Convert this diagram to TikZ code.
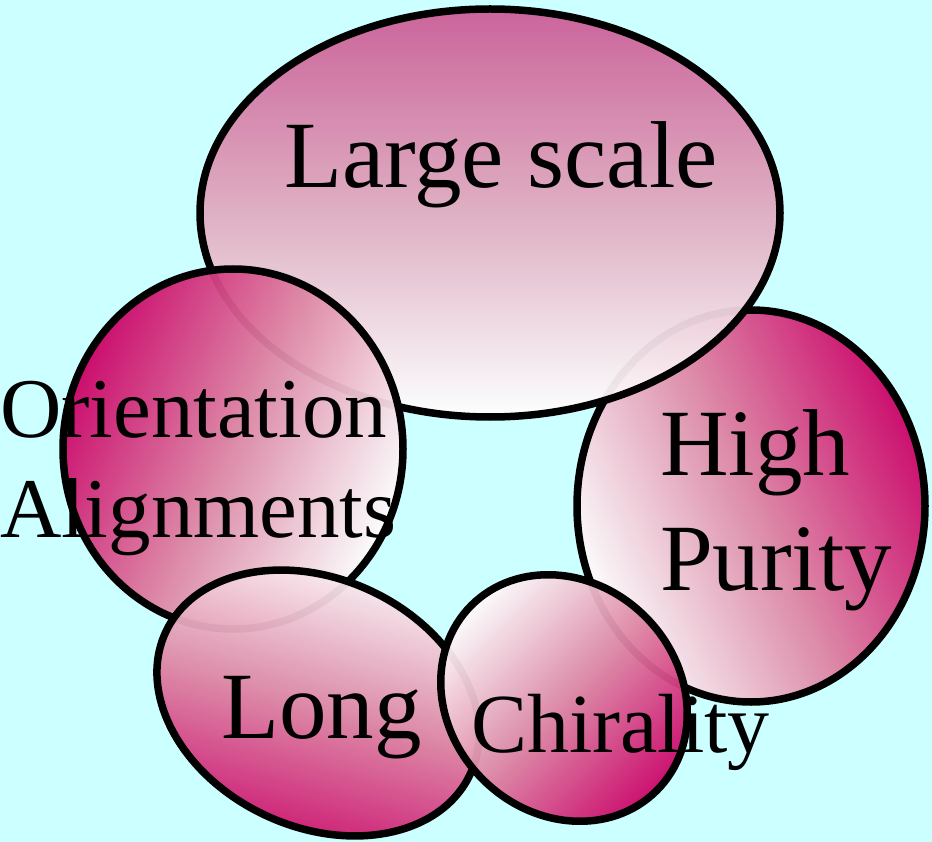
\documentclass[tikz,border=0pt]{standalone}
\usepackage{fontspec}
\setmainfont{Liberation Serif}
\definecolor{bg}{RGB}{204,255,255}
\definecolor{mag}{RGB}{204,0,102}
\definecolor{magmid}{RGB}{222,135,165}
\definecolor{lmag}{RGB}{204,92,150}
\definecolor{lmagmid}{RGB}{224,172,192}
\begin{document}
\begin{tikzpicture}[x=1pt,y=-1pt,
  bubble/.style={line width=7.5pt, draw=black, fill opacity=0.95, bottom color=white},
  deep/.style={top color=mag, middle color=magmid},
  lbl/.style={inner sep=0pt, outer sep=0pt, text=black, font=\fontsize{95}{115}\selectfont},
  lblsmall/.style={lbl, font=\fontsize{85}{100}\selectfont}]
\useasboundingbox (0,0) rectangle (932,842);
\fill[bg] (0,0) rectangle (932,842);
% shapes, bottom to top
\path[bubble, deep, shading angle=-65] (751,506) ellipse [x radius=174, y radius=196];
\path[bubble, top color=lmag, middle color=lmagmid, shading angle=0] (490,213) ellipse [x radius=290, y radius=204];
\path[bubble, deep, shading angle=65] (233,449) ellipse [x radius=170, y radius=180];
\path[bubble, deep, shading angle=165, rotate around={-25:(318,703)}] (318,703) ellipse [x radius=168, y radius=124];
\path[bubble, deep, shading angle=-135, rotate around={-45:(564,698)}] (564,698) ellipse [x radius=131, y radius=115];
% labels
\node[lbl, anchor=base] (tlarge) at (501,188) {Large scale};
\node[lblsmall, anchor=base west] (torient) at (0,437) {\begin{tabular}[t]{@{}l@{}}Orientation\\Alignments\end{tabular}};
\node[lbl, anchor=base west] (thigh) at (660,475) {\begin{tabular}[t]{@{}l@{}}High\\Purity\end{tabular}};
\node[lbl, anchor=base west] (tlong) at (221,738) {Long};
\node[lbl, font=\fontsize{84}{100}\selectfont, anchor=base west] (tchir) at (471,752) {Chirality};
\end{tikzpicture}
\end{document}
